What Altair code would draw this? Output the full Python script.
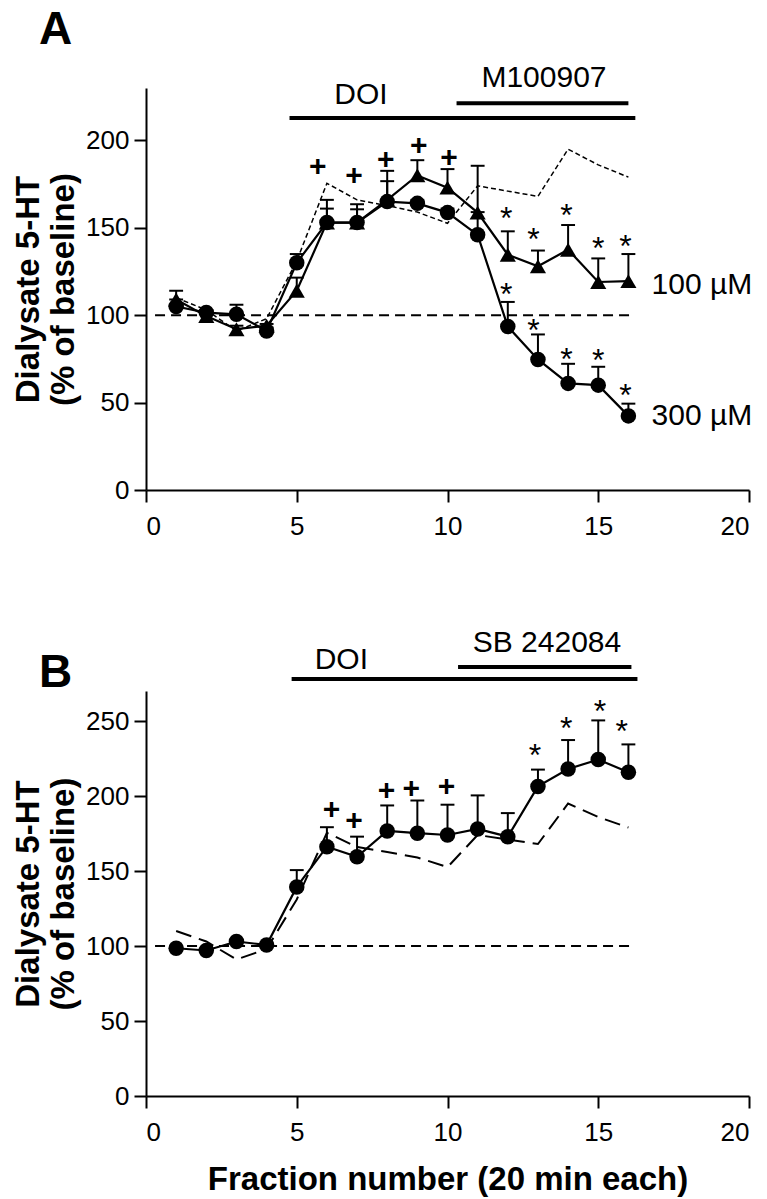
import altair as alt
import pandas as pd

FONT = "Liberation Sans"

# ---------------- data ----------------
fractions = list(range(1, 17))

# Panel A: DOI + M100907
a_300uM = [105, 101.5, 100.5, 91, 130, 153, 153, 165, 164, 158.7, 146, 93.5, 74.7, 61, 60, 42.4]
a_300uM_err = [109, 103, 106, 93, 135, 161, 163.5, 176.7, 166, 161, 159, 107.6, 89, 72.2, 70.5, 49.4]
a_100uM = [109, 99.5, 92, 94, 114, 153, 153, 166, 180, 173, 158.7, 134.6, 128, 137.5, 119, 119.5]
a_100uM_err = [114, 101, 94, 95, 121.5, 166, 160.6, 182.6, 188.7, 183.6, 185.5, 148, 137, 151.6, 132.5, 135]

# DOI alone (reference, dashed)
doi_alone = [110, 103, 91, 98, 131, 175.5, 166, 162.7, 159, 152.6, 174, 171, 168, 195, 186, 179]

# Panel B: DOI + SB 242084
b_sb = [98.5, 97, 103, 100.7, 139.4, 166.2, 159.5, 176.7, 175.2, 174, 178, 172.9, 206.4, 218, 224.3, 215.8]
b_sb_err = [99, 98, 104, 101, 150.6, 179.2, 172.9, 193.7, 197, 194.2, 200.4, 188.6, 217.6, 237.3, 250.4, 234.4]

# significance marks
a_plus_x = [5.7, 6.9, 7.95, 9.05, 10.05]
a_plus_y = [186, 181, 190, 198, 191]
a_star_x = [11.95, 12.85, 13.95, 15.0, 15.9, 11.95, 12.85, 13.95, 15.0, 15.9]
a_star_y = [160, 148, 162, 143, 144, 117, 96, 79.5, 79, 59]
b_plus_x = [6.15, 6.9, 7.98, 8.8, 9.97]
b_plus_y = [192, 185, 205, 206, 207.5]
b_star_x = [12.9, 13.94, 15.06, 15.78]
b_star_y = [233, 251, 262, 249]

# treatment bars: label, start, end, level
a_bars = [("DOI", 4.76, 16.23, 212.9), ("M100907", 10.3, 16.0, 221.3)]
a_bar_labels = [("DOI", 7.13, 220.9), ("M100907", 13.2, 230.4)]
b_bars = [("DOI", 4.83, 16.3, 278), ("SB 242084", 10.35, 16.1, 286)]
b_bar_labels = [("DOI", 6.48, 284.6), ("SB 242084", 13.3, 295.8)]

a_series_labels = [("100 µM", 16.77, 112.4), ("300 µM", 16.77, 37.3)]
baseline_span = (0.3, 16.2)

x_ticks = [0, 5, 10, 15, 20]
a_y_ticks = [0, 50, 100, 150, 200]
b_y_ticks = [0, 50, 100, 150, 200, 250]
y_title = ["Dialysate 5-HT", "(% of baseline)"]
x_title = "Fraction number (20 min each)"

CAP = 0.23  # half cap width in x units


def panel(letter, letter_y, y_dom, y_ticks, series, ref_dash, ref_width,
          plus_x, plus_y, star_x, star_y, bars, bar_labels, side_labels,
          show_x_title, height):
    xscale = alt.Scale(domain=[0, 20], nice=False, zero=False)
    yscale = alt.Scale(domain=y_dom, nice=False, zero=False)
    xaxis = alt.Axis(values=x_ticks, format="d", labelPadding=11, labelFlush=True,
                     title=x_title if show_x_title else None, titlePadding=18)
    yaxis = alt.Axis(values=y_ticks, format="d", labelPadding=5, labelFlush=False,
                     title=y_title, titlePadding=5)

    def X(f="x"):
        return alt.X(f"{f}:Q", scale=xscale, axis=xaxis)

    def Y(f="y"):
        return alt.Y(f"{f}:Q", scale=yscale, axis=yaxis)

    layers = []
    # baseline 100 %
    base_df = pd.DataFrame({"x": [baseline_span[0]], "x2": [baseline_span[1]], "y": [100]})
    layers.append(alt.Chart(base_df).mark_rule(color="black", strokeWidth=2, strokeDash=[10, 6])
                  .encode(x=X(), x2="x2:Q", y=Y()))
    # DOI-alone reference
    ref_df = pd.DataFrame({"x": fractions, "y": doi_alone})
    layers.append(alt.Chart(ref_df).mark_line(color="black", strokeWidth=ref_width, strokeDash=ref_dash)
                  .encode(x=X(), y=Y()))
    for vals, errs, shape, size in series:
        df = pd.DataFrame({"x": fractions, "y": vals, "e": errs})
        layers.append(alt.Chart(df).mark_rule(color="black", strokeWidth=2)
                      .encode(x=X(), y=Y(), y2="e:Q"))
        layers.append(alt.Chart(df).transform_calculate(xl=f"datum.x - {CAP}", xr=f"datum.x + {CAP}")
                      .mark_rule(color="black", strokeWidth=2)
                      .encode(x=X("xl"), x2="xr:Q", y=Y("e")))
        layers.append(alt.Chart(df).mark_line(color="black", strokeWidth=2.2)
                      .encode(x=X(), y=Y()))
        layers.append(alt.Chart(df).mark_point(filled=True, shape=shape, size=size, color="black", opacity=1)
                      .encode(x=X(), y=Y()))
    # treatment bars
    bdf = pd.DataFrame(bars, columns=["t", "x", "x2", "y"])
    layers.append(alt.Chart(bdf).mark_rule(color="black", strokeWidth=4)
                  .encode(x=X(), x2="x2:Q", y=Y()))
    ldf = pd.DataFrame(bar_labels, columns=["t", "x", "y"])
    layers.append(alt.Chart(ldf).mark_text(font=FONT, fontSize=30, color="black", align="center",
                                           baseline="alphabetic")
                  .encode(x=X(), y=Y(), text="t:N"))
    if side_labels:
        sdf = pd.DataFrame(side_labels, columns=["t", "x", "y"])
        layers.append(alt.Chart(sdf).mark_text(font=FONT, fontSize=30, color="black", align="left",
                                               baseline="alphabetic")
                      .encode(x=X(), y=Y(), text="t:N"))
    pdf = pd.DataFrame({"x": plus_x, "y": plus_y, "t": ["+"] * len(plus_x)})
    layers.append(alt.Chart(pdf).mark_text(font=FONT, fontSize=30, fontWeight="bold", color="black",
                                           align="center", baseline="alphabetic", dy=11)
                  .encode(x=X(), y=Y(), text="t:N"))
    sdf2 = pd.DataFrame({"x": star_x, "y": star_y, "t": ["*"] * len(star_x)})
    layers.append(alt.Chart(sdf2).mark_text(font=FONT, fontSize=32, color="black",
                                            align="center", baseline="alphabetic", dy=19)
                  .encode(x=X(), y=Y(), text="t:N"))
    letter_df = pd.DataFrame({"x": [-3.0], "y": [letter_y], "t": [letter]})
    layers.append(alt.Chart(letter_df).mark_text(font=FONT, fontSize=46, fontWeight="bold", color="black",
                                                 align="center", baseline="alphabetic")
                  .encode(x=X(), y=Y(), text="t:N"))
    return alt.layer(*layers).properties(width=603, height=height)


panel_a = panel("A", 255.3, [0, 230], a_y_ticks,
                [(a_100uM, a_100uM_err, "triangle-up", 260), (a_300uM, a_300uM_err, "circle", 240)],
                [5, 3], 1.5, a_plus_x, a_plus_y, a_star_x, a_star_y, a_bars, a_bar_labels,
                a_series_labels, False, 402)
panel_b = panel("B", 272.8, [0, 270], b_y_ticks,
                [(b_sb, b_sb_err, "circle", 240)],
                [16, 8], 2, b_plus_x, b_plus_y, b_star_x, b_star_y, b_bars, b_bar_labels,
                None, True, 405)

chart = alt.vconcat(panel_a, panel_b, spacing=201, bounds="flush").configure_view(
    stroke=None
).configure_axis(
    domainColor="black", domainWidth=2, tickColor="black", tickWidth=2, tickSize=12,
    labelFont=FONT, labelFontSize=26, labelColor="black",
    titleFont=FONT, titleFontSize=33, titleFontWeight="bold", titleColor="black",
    grid=False
).properties(background="white", padding={"left": 4, "top": -2, "right": 0, "bottom": 5})

chart.save("out.html", embed_options={"renderer": "svg", "actions": False})
